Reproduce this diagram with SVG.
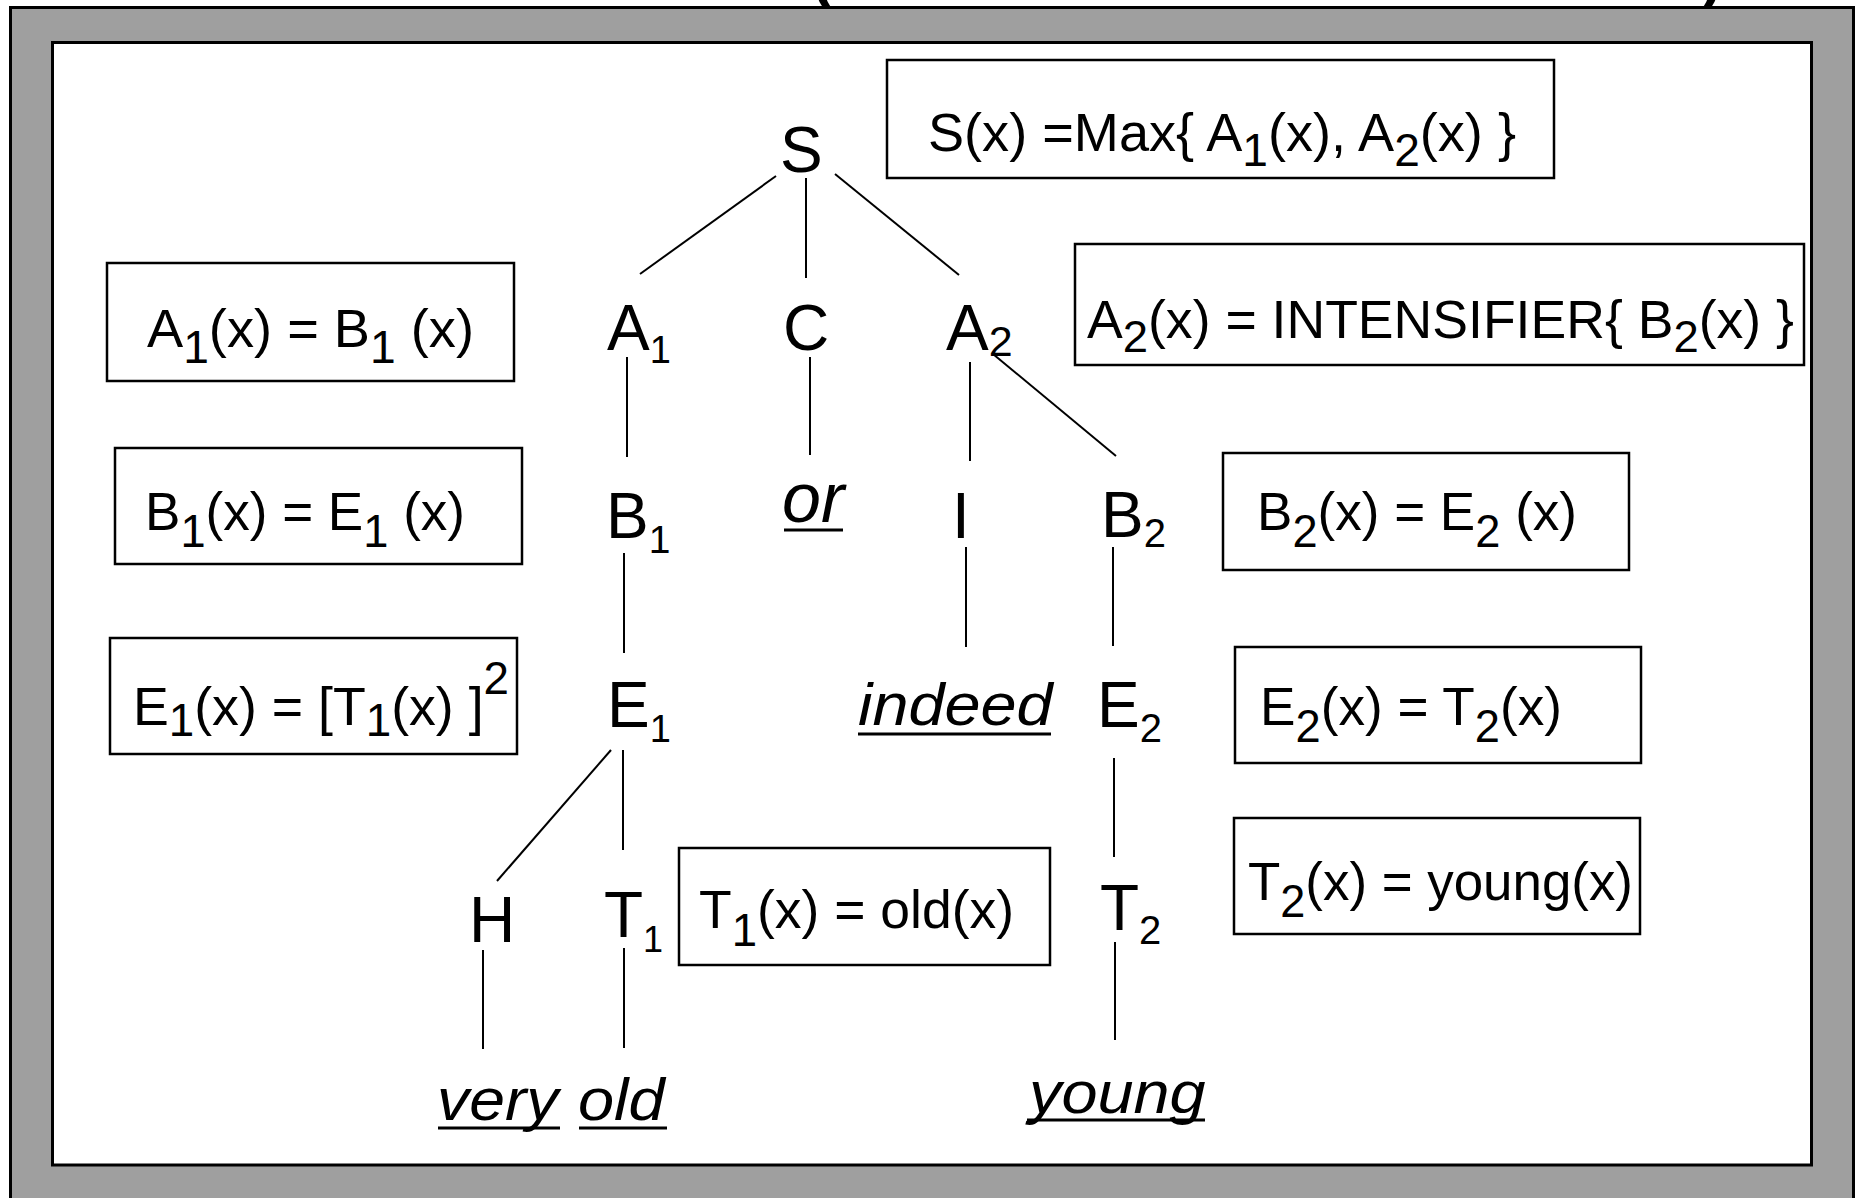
<svg xmlns="http://www.w3.org/2000/svg" width="1860" height="1198" viewBox="0 0 1860 1198">
<style>
  .t { font-family: "Liberation Sans", Arial, sans-serif; fill: #000; }
  .f { font-size: 54px; }
  .n { font-size: 64px; }
  .w { font-style: italic; }
  .ul { stroke: #000; stroke-width: 3; }
  .bx { fill: #fff; stroke: #000; stroke-width: 2.5; }
  .ln { stroke: #000; stroke-width: 2; fill: none; }
</style>
<g id="title-fragment">
  <text class="t" x="812" y="-3" font-size="60" font-weight="bold">(</text>
  <text class="t" x="1702" y="-3" font-size="60" font-weight="bold">)</text>
</g>
<g id="frame">
  <rect x="10.5" y="7.5" width="1843" height="1200" fill="#9f9f9f" stroke="#000" stroke-width="3"/>
  <rect x="52.5" y="42.5" width="1759" height="1122.5" fill="#fff" stroke="#000" stroke-width="3"/>
</g>
<g id="connectors">
  <line class="ln" x1="776" y1="176" x2="640" y2="274"/>
  <line class="ln" x1="806" y1="178" x2="806" y2="278"/>
  <line class="ln" x1="835" y1="174" x2="959" y2="275"/>
  <line class="ln" x1="627" y1="357" x2="627" y2="457"/>
  <line class="ln" x1="810" y1="357" x2="810" y2="455"/>
  <line class="ln" x1="970" y1="362" x2="970" y2="461"/>
  <line class="ln" x1="993" y1="354" x2="1116" y2="456"/>
  <line class="ln" x1="624" y1="553" x2="624" y2="653"/>
  <line class="ln" x1="966" y1="547" x2="966" y2="647"/>
  <line class="ln" x1="1113" y1="547" x2="1113" y2="646"/>
  <line class="ln" x1="611" y1="750" x2="497" y2="881"/>
  <line class="ln" x1="623" y1="750" x2="623" y2="850"/>
  <line class="ln" x1="1114" y1="758" x2="1114" y2="857"/>
  <line class="ln" x1="483" y1="950" x2="483" y2="1049"/>
  <line class="ln" x1="624" y1="948" x2="624" y2="1048"/>
  <line class="ln" x1="1115" y1="942" x2="1115" y2="1040"/>
</g>
<g id="node-S"><text class="t n" x="780" y="172" font-size="66">S</text></g>
<g id="node-A1"><text class="t n" x="607" y="350">A<tspan font-size="38" dy="13">1</tspan></text></g>
<g id="node-C"><text class="t n" x="783" y="350">C</text></g>
<g id="node-A2"><text class="t n" x="946" y="350">A<tspan font-size="43" dy="6">2</tspan></text></g>
<g id="node-B1"><text class="t n" x="606" y="538">B<tspan font-size="39" dy="15">1</tspan></text></g>
<g id="node-or"><text class="t w" x="782" y="522" font-size="70">or</text><line class="ul" x1="784" y1="530" x2="843" y2="530"/></g>
<g id="node-I"><text class="t n" x="952" y="538">I</text></g>
<g id="node-B2"><text class="t n" x="1101" y="537">B<tspan font-size="40" dy="10">2</tspan></text></g>
<g id="node-E1"><text class="t n" x="607" y="727">E<tspan font-size="38" dy="15">1</tspan></text></g>
<g id="node-indeed"><text class="t w" transform="translate(858,725) scale(1.08,1)" font-size="60">indeed</text><line class="ul" x1="858" y1="734" x2="1051" y2="734"/></g>
<g id="node-E2"><text class="t n" x="1097" y="727">E<tspan font-size="40" dy="15">2</tspan></text></g>
<g id="node-H"><text class="t n" x="469" y="942">H</text></g>
<g id="node-T1"><text class="t n" x="604" y="937">T<tspan font-size="36" dy="15">1</tspan></text></g>
<g id="node-T2"><text class="t n" x="1100" y="930">T<tspan font-size="40" dy="14">2</tspan></text></g>
<g id="node-very"><text class="t w" transform="translate(437,1120) scale(1.09,1)" font-size="59">very</text><line class="ul" x1="438" y1="1128" x2="560" y2="1128"/></g>
<g id="node-old"><text class="t w" transform="translate(578,1120) scale(1.10,1)" font-size="59">old</text><line class="ul" x1="579" y1="1128" x2="667" y2="1128"/></g>
<g id="node-young"><text class="t w" transform="translate(1029,1113) scale(1.08,1)" font-size="60">young</text><line class="ul" x1="1027" y1="1120" x2="1205" y2="1120"/></g>

<g id="box-S">
  <rect class="bx" x="887" y="60" width="667" height="118"/>
  <text class="t" x="928" y="151" font-size="54" textLength="588" lengthAdjust="spacingAndGlyphs">S(x) =Max{ A<tspan font-size="46" dy="15">1</tspan><tspan dy="-15">(x), A</tspan><tspan font-size="46" dy="15">2</tspan><tspan dy="-15">(x) }</tspan></text>
</g>
<g id="box-A1">
  <rect class="bx" x="107" y="263" width="407" height="118"/>
  <text class="t f" x="147" y="347" textLength="327" lengthAdjust="spacingAndGlyphs">A<tspan font-size="46" dy="16">1</tspan><tspan dy="-16">(x) = B</tspan><tspan font-size="46" dy="16">1</tspan><tspan dy="-16"> (x)</tspan></text>
</g>
<g id="box-A2">
  <rect class="bx" x="1075" y="244" width="729" height="121"/>
  <text class="t" x="1087" y="338" font-size="53" textLength="707" lengthAdjust="spacingAndGlyphs">A<tspan font-size="45" dy="14">2</tspan><tspan dy="-14">(x) = INTENSIFIER{ B</tspan><tspan font-size="45" dy="14">2</tspan><tspan dy="-14">(x) }</tspan></text>
</g>
<g id="box-B1">
  <rect class="bx" x="115" y="448" width="407" height="116"/>
  <text class="t f" x="145" y="530" textLength="320" lengthAdjust="spacingAndGlyphs">B<tspan font-size="46" dy="17">1</tspan><tspan dy="-17">(x) = E</tspan><tspan font-size="46" dy="17">1</tspan><tspan dy="-17"> (x)</tspan></text>
</g>
<g id="box-B2">
  <rect class="bx" x="1223" y="453" width="406" height="117"/>
  <text class="t f" x="1257" y="530" textLength="320" lengthAdjust="spacingAndGlyphs">B<tspan font-size="46" dy="17">2</tspan><tspan dy="-17">(x) = E</tspan><tspan font-size="46" dy="17">2</tspan><tspan dy="-17"> (x)</tspan></text>
</g>
<g id="box-E1">
  <rect class="bx" x="110" y="638" width="407" height="116"/>
  <text class="t f" x="133" y="725" textLength="376" lengthAdjust="spacingAndGlyphs">E<tspan font-size="46" dy="11">1</tspan><tspan dy="-11">(x) = [T</tspan><tspan font-size="46" dy="11">1</tspan><tspan dy="-11">(x) ]</tspan><tspan font-size="46" dy="-31">2</tspan></text>
</g>
<g id="box-E2">
  <rect class="bx" x="1235" y="647" width="406" height="116"/>
  <text class="t f" x="1260" y="725" textLength="302" lengthAdjust="spacingAndGlyphs">E<tspan font-size="46" dy="17">2</tspan><tspan dy="-17">(x) = T</tspan><tspan font-size="46" dy="17">2</tspan><tspan dy="-17">(x)</tspan></text>
</g>
<g id="box-T1">
  <rect class="bx" x="679" y="848" width="371" height="117"/>
  <text class="t f" x="699" y="928" textLength="315" lengthAdjust="spacingAndGlyphs">T<tspan font-size="46" dy="18">1</tspan><tspan dy="-18">(x) = old(x)</tspan></text>
</g>
<g id="box-T2">
  <rect class="bx" x="1234" y="818" width="406" height="116"/>
  <text class="t f" x="1248" y="900" textLength="385" lengthAdjust="spacingAndGlyphs">T<tspan font-size="46" dy="17">2</tspan><tspan dy="-17">(x) = young(x)</tspan></text>
</g>
</svg>
